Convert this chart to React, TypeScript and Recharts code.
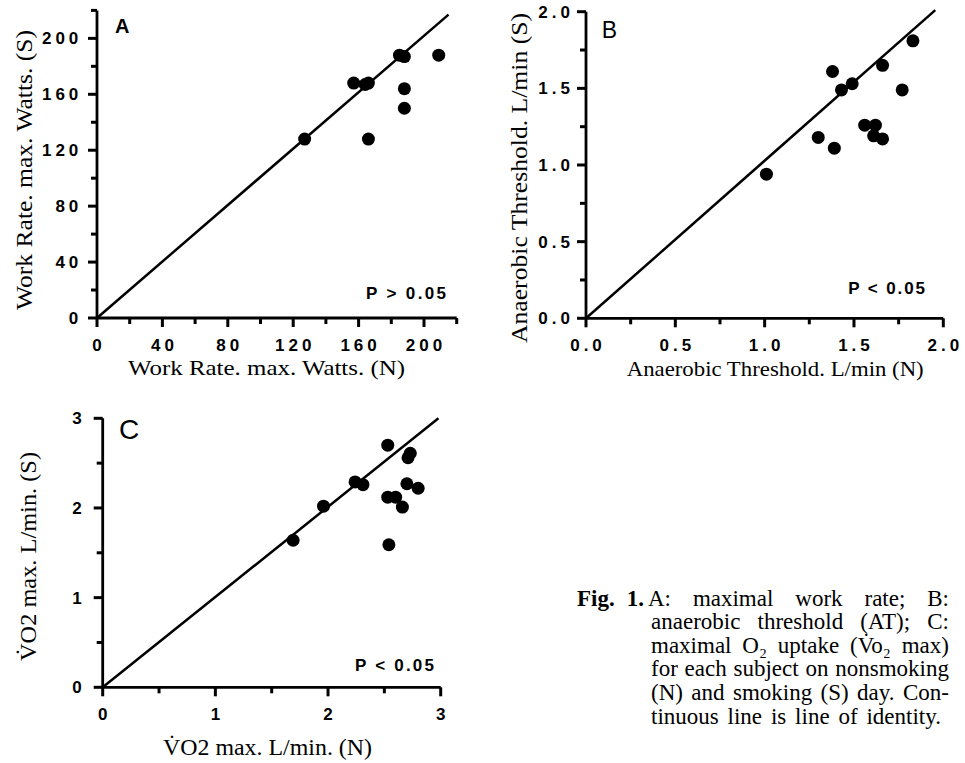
import React from 'react';
import { ScatterChart, Scatter, XAxis, YAxis, ReferenceLine } from 'recharts';

// ---------- Data ----------
// Panel A: maximal work rate (Watts), nonsmoking (N) vs smoking (S)
const aWorkRateN = [127, 157, 164, 166, 166, 185, 188, 188, 188, 209];
const aWorkRateS = [128, 168, 167, 168, 128, 188, 187, 164, 150, 188];
const aMajorTicks = [0, 40, 80, 120, 160, 200];
const aMinorTicks = [20, 60, 100, 140, 180, 220];
const aDomain = [0, 220];
const aIdentityEnd = [215, 217];

// Panel B: anaerobic threshold (L/min)
const bThresholdN = [1.01, 1.3, 1.39, 1.38, 1.43, 1.49, 1.56, 1.62, 1.61, 1.66, 1.66, 1.77, 1.83];
const bThresholdS = [0.94, 1.18, 1.11, 1.61, 1.49, 1.53, 1.26, 1.26, 1.19, 1.17, 1.65, 1.49, 1.81];
const bMajorTicks = [0, 0.5, 1, 1.5, 2];
const bMinorTicks = [0.25, 0.75, 1.25, 1.75];
const bDomain = [0, 2];
const bIdentityEnd = [1.955, 2.01];

// Panel C: VO2 max (L/min)
const cVo2N = [1.69, 1.96, 2.24, 2.31, 2.53, 2.53, 2.6, 2.54, 2.66, 2.7, 2.71, 2.73, 2.8];
const cVo2S = [1.64, 2.02, 2.29, 2.26, 2.7, 2.12, 2.12, 1.59, 2.01, 2.27, 2.56, 2.61, 2.22];
const cMajorTicks = [0, 1, 2, 3];
const cMinorTicks = [0.5, 1.5, 2.5];
const cDomain = [0, 3];
const cIdentityEnd = [2.98, 3.0];

// ---------- Styles ----------
const SERIF = '"Liberation Serif", "Times New Roman", Times, serif';
const SANS = '"Liberation Sans", Arial, Helvetica, sans-serif';
const INK = '#000';
const LS = 4; // tick label letter spacing
const MAJOR = 9; // major tick length
const MINOR = 6; // minor tick length

const toPoints = (xs: number[], ys: number[]) => xs.map((x, i) => ({ n: x, s: ys[i] }));
const fmtInt = (v: number) => String(v);
const fmt1 = (v: number) => v.toFixed(1);

const isIn = (arr: number[], v: number) => arr.some((m) => Math.abs(m - v) < 1e-6);

const tickTextStyle: React.CSSProperties = {
  fontFamily: SANS,
  fontSize: 17,
  fontWeight: 700,
  letterSpacing: LS,
};

// With tickSize = 0 and tickMargin = 0, x / y arrive on the axis line itself.
function makeXTick(majors: number[], fmt: (v: number) => string, baselineFromAxis: number) {
  return (props: any) => {
    const { x, y, payload } = props;
    const v = payload.value;
    const major = isIn(majors, v);
    return (
      <g>
        <line x1={x} y1={y} x2={x} y2={y + (major ? MAJOR : MINOR)} stroke={INK} strokeWidth={3} />
        {major && (
          <text x={x + LS / 2} y={y + baselineFromAxis} textAnchor="middle" fill={INK} style={tickTextStyle}>
            {fmt(v)}
          </text>
        )}
      </g>
    );
  };
}

function makeYTick(majors: number[], fmt: (v: number) => string, labelGap: number) {
  return (props: any) => {
    const { x, y, payload } = props;
    const v = payload.value;
    const major = isIn(majors, v);
    return (
      <g>
        <line x1={x} y1={y} x2={x - (major ? MAJOR : MINOR)} y2={y} stroke={INK} strokeWidth={3} />
        {major && (
          <text x={x - labelGap + LS} y={y + 6} textAnchor="end" fill={INK} style={tickTextStyle}>
            {fmt(v)}
          </text>
        )}
      </g>
    );
  };
}

const Dot = (p: any) => <circle cx={p.cx} cy={p.cy} r={6.5} fill={INK} />;

type PanelProps = {
  left: number;
  top: number;
  width: number;
  height: number;
  margin: { top: number; right: number; left: number; bottom: number };
  yAxisWidth: number;
  xAxisHeight: number;
  domain: number[];
  majors: number[];
  minors: number[];
  fmt: (v: number) => string;
  points: { n: number; s: number }[];
  identityEnd: number[];
  xLabelBaseline: number;
  yLabelGap: number;
};

function Panel(p: PanelProps) {
  const ticks = [...p.majors, ...p.minors].sort((a, b) => a - b);
  const axisLine = { stroke: INK, strokeWidth: 2.8 };
  return (
    <div style={{ position: 'absolute', left: p.left, top: p.top, width: p.width, height: p.height }}>
      <ScatterChart width={p.width} height={p.height} margin={p.margin}>
        <XAxis
          type="number"
          dataKey="n"
          domain={p.domain}
          ticks={ticks}
          interval={0}
          allowDataOverflow
          height={p.xAxisHeight}
          tickSize={0}
          tickMargin={0}
          tickLine={false}
          axisLine={axisLine}
          tick={makeXTick(p.majors, p.fmt, p.xLabelBaseline)}
        />
        <YAxis
          type="number"
          dataKey="s"
          domain={p.domain}
          ticks={ticks}
          interval={0}
          allowDataOverflow
          width={p.yAxisWidth}
          tickSize={0}
          tickMargin={0}
          tickLine={false}
          axisLine={axisLine}
          tick={makeYTick(p.majors, p.fmt, p.yLabelGap)}
        />
        <ReferenceLine
          segment={[
            { x: 0, y: 0 },
            { x: p.identityEnd[0], y: p.identityEnd[1] },
          ]}
          stroke={INK}
          strokeWidth={2.5}
          ifOverflow="visible"
        />
        <Scatter data={p.points} shape={Dot} isAnimationActive={false} />
      </ScatterChart>
    </div>
  );
}

const CaptionLine = ({ left, baseline, width, children }: any) => (
  <div
    style={{
      position: 'absolute',
      left,
      top: baseline - 19.5,
      width,
      height: 23.6,
      lineHeight: '23.6px',
      fontFamily: SERIF,
      fontSize: 23,
      color: INK,
      display: 'flex',
      justifyContent: 'space-between',
      whiteSpace: 'nowrap',
    }}
  >
    {children}
  </div>
);

const titleProps = { fontFamily: SERIF, fontSize: 22, fill: INK, lengthAdjust: 'spacingAndGlyphs' } as const;
const pProps = { fontFamily: SANS, fontSize: 17, fontWeight: 700, fill: INK, lengthAdjust: 'spacing' } as const;

export default function App() {
  return (
    <div
      style={{
        position: 'absolute',
        left: 0,
        top: 0,
        width: 965,
        height: 763,
        background: '#fff',
        overflow: 'hidden',
      }}
    >
      <Panel
        left={0}
        top={0}
        width={480}
        height={380}
        margin={{ top: 10.4, right: 23.3, left: 0, bottom: 0 }}
        yAxisWidth={97}
        xAxisHeight={62}
        domain={aDomain}
        majors={aMajorTicks}
        minors={aMinorTicks}
        fmt={fmtInt}
        points={toPoints(aWorkRateN, aWorkRateS)}
        identityEnd={aIdentityEnd}
        xLabelBaseline={32.5}
        yLabelGap={18.7}
      />
      <Panel
        left={480}
        top={0}
        width={485}
        height={380}
        margin={{ top: 11.7, right: 21.7, left: 0, bottom: 0 }}
        yAxisWidth={106}
        xAxisHeight={61.7}
        domain={bDomain}
        majors={bMajorTicks}
        minors={bMinorTicks}
        fmt={fmt1}
        points={toPoints(bThresholdN, bThresholdS)}
        identityEnd={bIdentityEnd}
        xLabelBaseline={32.2}
        yLabelGap={16}
      />
      <Panel
        left={0}
        top={380}
        width={480}
        height={383}
        margin={{ top: 38.3, right: 39.3, left: 0, bottom: 0 }}
        yAxisWidth={102.7}
        xAxisHeight={75.7}
        domain={cDomain}
        majors={cMajorTicks}
        minors={cMinorTicks}
        fmt={fmtInt}
        points={toPoints(cVo2N, cVo2S)}
        identityEnd={cIdentityEnd}
        xLabelBaseline={32.7}
        yLabelGap={21}
      />

      <svg
        width={965}
        height={763}
        style={{ position: 'absolute', left: 0, top: 0, pointerEvents: 'none' }}
      >
        {/* Panel letters */}
        <text x={115} y={33.3} fontFamily={SANS} fontSize={20} fontWeight={700} fill={INK}>A</text>
        <text x={601.7} y={38.3} fontFamily={SANS} fontSize={23} fill={INK}>B</text>
        <text x={119} y={439} fontFamily={SANS} fontSize={28} fill={INK}>C</text>

        {/* P values */}
        <text x={366} y={299.3} {...pProps} textLength={80}>P &gt; 0.05</text>
        <text x={848.3} y={294} {...pProps} textLength={76.7}>P &lt; 0.05</text>
        <text x={355} y={670.7} {...pProps} textLength={79}>P &lt; 0.05</text>

        {/* Axis titles */}
        <text x={128} y={375} {...titleProps} textLength={277}>Work Rate. max. Watts. (N)</text>
        <text transform="translate(31.7,310) rotate(-90)" x={0} y={0} {...titleProps} fontSize={23} textLength={280}>Work Rate. max. Watts. (S)</text>

        <text x={626.7} y={375.5} {...titleProps} textLength={297}>Anaerobic Threshold. L/min (N)</text>
        <text transform="translate(526.7,343) rotate(-90)" x={0} y={0} {...titleProps} fontSize={24} textLength={330}>Anaerobic Threshold. L/min (S)</text>

        <text x={163} y={755} {...titleProps} fontSize={23} textLength={209}>{'V\u0307O2 max. L/min. (N)'}</text>
        <text transform="translate(36,661) rotate(-90)" x={0} y={0} {...titleProps} fontSize={23} textLength={209}>{'V\u0307O2 max. L/min. (S)'}</text>
      </svg>

      {/* Caption */}
      <CaptionLine left={577} baseline={606} width={372}>
        <span>
          <span style={{ fontWeight: 700, marginRight: 12 }}>Fig.</span>
          <span style={{ fontWeight: 700, marginRight: 4 }}>1.</span>A:
        </span>
        <span>maximal</span>
        <span>work</span>
        <span>rate;</span>
        <span>B:</span>
      </CaptionLine>
      <CaptionLine left={651} baseline={629.6} width={298}>
        <span>anaerobic</span>
        <span>threshold</span>
        <span>(AT);</span>
        <span>C:</span>
      </CaptionLine>
      <CaptionLine left={651} baseline={653.2} width={298}>
        <span>maximal</span>
        <span>{'O\u2082'}</span>
        <span>uptake</span>
        <span>{'(V\u0307o\u2082'}</span>
        <span>max)</span>
      </CaptionLine>
      <CaptionLine left={651} baseline={676.8} width={298}>
        <span>for</span>
        <span>each</span>
        <span>subject</span>
        <span>on</span>
        <span>nonsmoking</span>
      </CaptionLine>
      <CaptionLine left={651} baseline={700.4} width={298}>
        <span>(N)</span>
        <span>and</span>
        <span>smoking</span>
        <span>(S)</span>
        <span>day.</span>
        <span>Con-</span>
      </CaptionLine>
      <CaptionLine left={651} baseline={724} width={290}>
        <span>tinuous</span>
        <span>line</span>
        <span>is</span>
        <span>line</span>
        <span>of</span>
        <span>identity.</span>
      </CaptionLine>
    </div>
  );
}
